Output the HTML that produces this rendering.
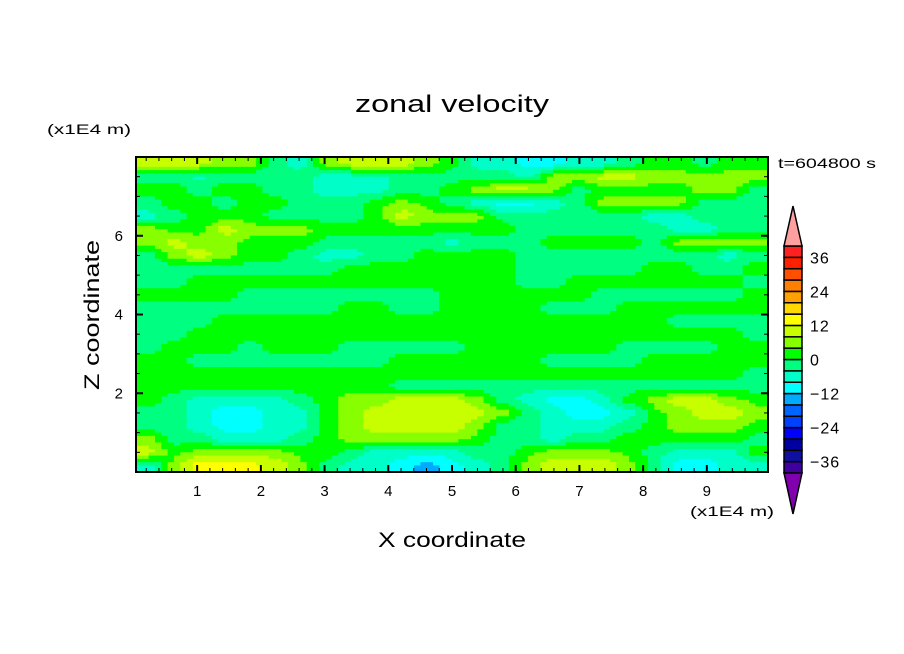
<!DOCTYPE html>
<html><head><meta charset="utf-8"><style>
html,body{margin:0;padding:0;background:#fff;}
svg{display:block;font-family:"Liberation Sans",sans-serif;}
</style></head><body>
<svg id="chart" width="904" height="654" viewBox="0 0 904 654">
<rect width="904" height="654" fill="#fff"/>
<text x="355" y="112" font-size="24" textLength="194" lengthAdjust="spacingAndGlyphs">zonal velocity</text>
<text x="47" y="134" font-size="14" textLength="84" lengthAdjust="spacingAndGlyphs">(x1E4 m)</text>
<text x="778" y="168" font-size="14" textLength="98" lengthAdjust="spacingAndGlyphs">t=604800 s</text>
<text x="690" y="516" font-size="14" textLength="84" lengthAdjust="spacingAndGlyphs">(x1E4 m)</text>
<text x="378" y="547" font-size="21" textLength="148" lengthAdjust="spacingAndGlyphs">X coordinate</text>
<text x="-390" y="0" font-size="21" textLength="150" lengthAdjust="spacingAndGlyphs" transform="translate(99,0) rotate(-90)">Z coordinate</text>
<g id="field"></g>
<g id="axes"></g>
<g id="cbar"></g>
</svg>
<script>
const xTicks=[1,2,3,4,5,6,7,8,9];
const yTicks=[2,4,6];
const levelBounds=[-40,-36,-32,-28,-24,-20,-16,-12,-8,-4,0,4,8,12,16,20,24,28,32,36,40];
const levelColors=["#8000b0","#4000a0","#1010a0","#0000a0","#0000ff","#0040ff","#0064ff","#00aaff","#00ffff","#00ffc8","#00ff80","#00ff00","#88ff00","#c8ff00","#ffff00","#ffd800","#ffa000","#ff8000","#ff5000","#ff2000","#ff2020","#ffa0a0"];
const cbarLabels=[36,24,12,0,-12,-24,-36];
// rows from top (z=8) to bottom (z=0), 25 columns across x
const uRows=[
[10,12,10,6,6,-2,-6,6,10,10,10,6,2,-6,-6,-10,-10,-6,-6,-2,2,2,-2,2,2],
[-2,-2,-6,-2,-2,-2,-2,-6,-6,-6,-2,-2,-2,-2,-2,-6,6,6,10,10,6,6,6,6,6],
[2,2,-2,2,2,-2,-2,-6,-6,-6,-2,-2,2,6,10,10,6,-2,2,2,2,2,6,6,-2],
[-2,2,2,-2,2,2,-2,-2,-2,2,6,2,-2,-6,-10,-10,-6,-2,6,6,6,6,-2,-2,-2],
[-6,-2,2,2,2,-2,-2,-2,-2,2,10,6,6,6,-2,-2,-2,-2,-2,-2,-6,-6,-2,-2,-2],
[6,2,2,10,6,6,6,2,2,2,2,2,2,2,2,-2,-2,-2,-2,-2,-2,-6,-6,-2,-2],
[6,10,6,6,2,2,2,-2,-2,-2,-2,-2,-6,-2,-2,-2,2,2,2,2,-2,6,6,6,6],
[-2,6,10,6,2,2,-2,-6,-6,-2,-2,2,2,2,2,-2,-2,-2,-2,-2,-2,-2,-2,-6,-2],
[-2,-2,-2,-2,-2,-2,-2,-2,2,2,2,2,2,2,2,-2,-2,-2,-2,-2,2,2,-2,-2,2],
[-2,-2,2,2,2,2,2,2,2,2,2,2,2,2,2,-2,-2,2,2,2,2,2,2,2,-2],
[2,2,2,2,-2,-2,-2,-2,-2,-2,-2,-2,2,2,2,2,2,2,-2,-2,-2,-2,-2,-2,2],
[-2,-2,-2,-2,-2,-2,-2,-2,2,2,-2,-2,2,2,2,2,-2,-2,-2,2,2,2,2,2,2],
[-2,-2,-2,2,2,2,2,2,2,2,2,2,2,2,2,2,2,2,2,2,2,-2,-2,-2,-2],
[-2,-2,2,2,2,2,2,2,2,2,2,2,2,2,2,2,2,2,2,2,2,2,2,2,-2],
[-2,2,2,2,-2,2,2,2,-2,-2,-2,-2,-2,2,2,2,2,2,2,-2,-2,-2,-2,2,2],
[2,2,-2,-2,-2,-2,-2,-2,-2,-2,2,2,2,2,2,2,-2,-2,-2,-2,2,2,2,2,2],
[2,2,2,2,2,2,2,2,2,2,2,2,2,2,2,2,2,2,2,2,2,2,2,2,-2],
[2,2,2,2,2,2,2,2,2,2,-2,-2,-2,-2,-2,-2,-2,-2,-2,-2,-2,-2,-2,-2,-2],
[2,-2,-6,-6,-6,-6,-2,2,6,6,10,10,10,6,-2,-6,-10,-10,-6,2,6,10,10,6,2],
[-2,-2,-6,-10,-10,-6,-6,2,6,10,10,10,10,10,6,-2,-6,-10,-10,-6,2,6,10,10,6],
[-2,-2,-6,-10,-10,-6,-6,2,6,10,10,10,10,6,-2,-2,-6,-6,-6,-2,2,6,6,6,2],
[6,-2,-2,-6,-6,-6,-2,2,6,6,6,6,6,2,-2,-2,-6,-2,-2,2,2,2,2,2,-2],
[10,2,6,6,6,6,2,2,-2,-6,-6,-6,-6,-2,-2,2,6,6,6,2,-2,-6,-6,-6,2],
[-6,6,14,14,14,10,6,-2,-6,-6,-10,-14,-10,-6,-2,6,10,10,10,6,-2,-10,-10,-6,-6]
];
const X0=0.04,X1=9.96,Z0=0,Z1=8;
const PL=136,PR=768,PT=157,PB=472;
const xs=v=>PL+(v-X0)/(X1-X0)*(PR-PL);
const ys=v=>PB-(v-Z0)/(Z1-Z0)*(PB-PT);
const NS="http://www.w3.org/2000/svg";
function mk(tag,attrs,parent){const e=document.createElementNS(NS,tag);for(const k in attrs)e.setAttribute(k,attrs[k]);parent.appendChild(e);return e;}
function colorOf(v){let i=0;while(i<levelBounds.length&&v>=levelBounds[i])i++;return levelColors[i];}
const field=document.getElementById('field');
const nr=uRows.length,nc=uRows[0].length,S=4;
const dxu=(X1-X0)/nc,dzu=(Z1-Z0)/nr;
function sample(r,c){r=Math.max(0,Math.min(nr-1,r));c=Math.max(0,Math.min(nc-1,c));return uRows[r][c];}
function interp(fr,fc){const r0=Math.floor(fr),c0=Math.floor(fc),tr=fr-r0,tc=fc-c0;
return (sample(r0,c0)*(1-tc)+sample(r0,c0+1)*tc)*(1-tr)+(sample(r0+1,c0)*(1-tc)+sample(r0+1,c0+1)*tc)*tr;}
for(let sr=0;sr<nr*S;sr++){
  const fr=(sr+0.5)/S-0.5;
  const zTop=Z1-sr*dzu/S,zBot=Z1-(sr+1)*dzu/S;
  let runStart=0,runCol=null;
  for(let sc=0;sc<=nc*S;sc++){
    let col=null;
    if(sc<nc*S){const fc=(sc+0.5)/S-0.5;col=colorOf(interp(fr,fc));}
    if(col!==runCol){
      if(runCol!==null){
        const xa=xs(X0+runStart*dxu/S),xb=xs(X0+sc*dxu/S);
        const r=mk('rect',{x:xa.toFixed(2),y:ys(zTop).toFixed(2),width:(xb-xa+0.6).toFixed(2),height:(ys(zBot)-ys(zTop)+0.6).toFixed(2),fill:runCol},field);
        
        
      }
      runStart=sc;runCol=col;
    }
  }
}
const axes=document.getElementById('axes');
const fr_=mk('rect',{x:PL,y:PT,width:PR-PL,height:PB-PT,fill:'none',stroke:'#000','stroke-width':2},axes);


for(let v=0.2;v<X1;v+=0.2){const x=xs(v);const major=Math.abs(v-Math.round(v))<0.01;const L=major?7:4;
 mk('line',{x1:x,y1:PB,x2:x,y2:PB-L,stroke:'#000','stroke-width':major?2:1},axes);
 mk('line',{x1:x,y1:PT,x2:x,y2:PT+L,stroke:'#000','stroke-width':major?2:1},axes);}
for(let v=0.5;v<Z1;v+=0.5){const y=ys(v);const major=Math.abs(v/2-Math.round(v/2))<0.01;const L=major?7:4;
 mk('line',{x1:PL,y1:y,x2:PL+L,y2:y,stroke:'#000','stroke-width':major?2:1},axes);
 mk('line',{x1:PR,y1:y,x2:PR-L,y2:y,stroke:'#000','stroke-width':major?2:1},axes);}
xTicks.forEach(t=>{const e=mk('text',{x:xs(t),y:496,'font-size':15,'text-anchor':'middle'},axes);e.textContent=t;
 
 });
yTicks.forEach(t=>{const e=mk('text',{x:123,y:ys(t)+5,'font-size':15,'text-anchor':'end'},axes);e.textContent=t;
 
 });
const cb=document.getElementById('cbar');
const CX=784,CW=18,CT=246,CB=473;
const cy=v=>CB-(v-levelBounds[0])/(levelBounds[levelBounds.length-1]-levelBounds[0])*(CB-CT);
for(let i=0;i<levelBounds.length-1;i++){
 const r=mk('rect',{x:CX,y:cy(levelBounds[i+1]),width:CW,height:cy(levelBounds[i])-cy(levelBounds[i+1]),fill:levelColors[i+1],stroke:'#000','stroke-width':1.5},cb);
 
 
}
const tu=mk('polygon',{points:`${CX},${CT} ${CX+CW},${CT} ${CX+CW/2},206`,fill:levelColors[levelColors.length-1],stroke:'#000','stroke-width':1.5},cb);


const td=mk('polygon',{points:`${CX},${CB} ${CX+CW},${CB} ${CX+CW/2},514`,fill:levelColors[0],stroke:'#000','stroke-width':1.5},cb);


cbarLabels.forEach(v=>{const e=mk('text',{x:810,y:cy(v)+6,'font-size':16,'letter-spacing':1},cb);e.textContent=(v<0?'\u2212':'')+Math.abs(v);
 
 });
</script>
</body></html>
